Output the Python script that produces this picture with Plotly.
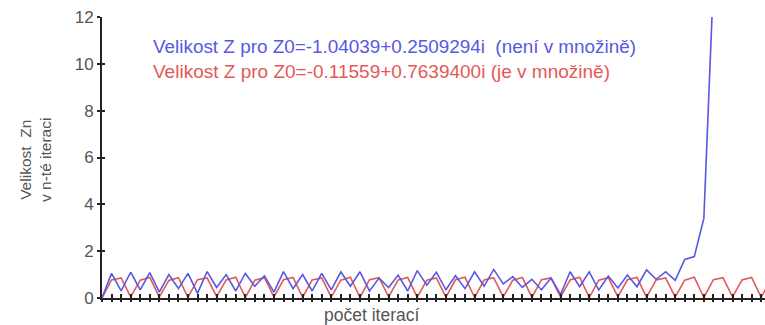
import plotly.graph_objects as go

# Iteration numbers and magnitudes |Z_n|
iter_blue = list(range(0, 65))
blue_vals = [0.0, 1.05, 0.30, 1.10, 0.35, 1.08, 0.25, 1.00, 0.40, 1.05,
             0.20, 1.13, 0.45, 1.00, 0.30, 1.05, 0.50, 0.95, 0.25, 1.13,
             0.40, 1.00, 0.30, 1.05, 0.35, 1.12, 0.50, 1.12, 0.30, 0.85,
             0.45, 0.98, 0.30, 1.17, 0.55, 1.10, 0.35, 0.95, 0.40, 1.12,
             0.50, 1.22, 0.60, 0.91, 0.45, 0.80, 0.35, 0.85, 0.15, 1.12,
             0.48, 1.12, 0.34, 0.94, 0.43, 0.98, 0.48, 1.20, 0.80, 1.12,
             0.75, 1.65, 1.77, 3.40, 13.5]

iter_red = list(range(0, 71))
red_vals = [0.0, 0.77, 0.86, 0.05, 0.76, 0.88, 0.04, 0.75, 0.87, 0.03,
            0.78, 0.86, 0.06, 0.77, 0.89, 0.02, 0.76, 0.87, 0.05, 0.78,
            0.88, 0.03, 0.77, 0.86, 0.04, 0.76, 0.89, 0.02, 0.78, 0.87,
            0.05, 0.77, 0.88, 0.03, 0.76, 0.86, 0.04, 0.78, 0.89, 0.02,
            0.77, 0.87, 0.05, 0.76, 0.88, 0.03, 0.78, 0.86, 0.04, 0.77,
            0.89, 0.02, 0.76, 0.87, 0.05, 0.78, 0.88, 0.03, 0.77, 0.86,
            0.04, 0.76, 0.89, 0.02, 0.78, 0.87, 0.05, 0.77, 0.88, 0.03,
            0.76]

y_ticks = [0, 2, 4, 6, 8, 10, 12]
y_labels = ["0", "2", "4", "6", "8", "10", "12"]

label_blue = "Velikost Z pro Z0=-1.04039+0.2509294i  (není v množině)"
label_red = "Velikost Z pro Z0=-0.11559+0.7639400i (je v množině)"
y_title = "Velikost  Zn<br>v n-té iteraci"
x_title = "počet iterací"

BLUE = "#5858e2"
RED = "#e45858"
FONT = "Liberation Sans, Arial, sans-serif"

L, R, T, B = 102, 0, 17, 27
PW = 765 - L - R
PH = 325 - T - B

fig = go.Figure()
fig.add_trace(go.Scatter(x=iter_red, y=red_vals, mode="lines",
                         line=dict(color=RED, width=1.6), showlegend=False))
fig.add_trace(go.Scatter(x=iter_blue, y=blue_vals, mode="lines",
                         line=dict(color=BLUE, width=1.6), showlegend=False))

XR = [0, 69.4]
fig.update_layout(
    width=765, height=325,
    margin=dict(l=L, r=R, t=T, b=B, autoexpand=False),
    paper_bgcolor="white", plot_bgcolor="white",
    font=dict(family=FONT, color="#444"),
    xaxis=dict(range=XR, tick0=0, dtick=1, ticks="inside", ticklen=4,
               tickcolor="#222", tickwidth=1.5, showticklabels=False,
               showgrid=False, zeroline=False, showline=True, automargin=False,
               linecolor="#222", linewidth=1.8),
    xaxis2=dict(range=XR, overlaying="x", anchor="y", side="bottom",
                tick0=0, dtick=1, ticks="outside", ticklen=3, automargin=False,
                tickcolor="#222", tickwidth=1.5, showticklabels=False,
                showgrid=False, zeroline=False, showline=False),
    yaxis=dict(range=[0, 12], tickvals=y_ticks, ticktext=y_labels,
               ticks="outside", ticklen=3, tickcolor="#222", tickwidth=1.5,
               tickfont=dict(size=17, color="#555"), automargin=False,
               showgrid=False, zeroline=False, showline=True,
               linecolor="#222", linewidth=1.8),
    yaxis2=dict(range=[0, 12], overlaying="y", anchor="x", side="left",
                tickvals=y_ticks, ticks="inside", ticklen=3, automargin=False,
                tickcolor="#222", tickwidth=1.5, showticklabels=False,
                showgrid=False, zeroline=False, showline=False),
)
# invisible helper trace so the overlay axes are drawn
fig.add_trace(go.Scatter(x=[0], y=[0], xaxis="x2", yaxis="y2", mode="markers",
                         marker=dict(opacity=0), showlegend=False, hoverinfo="skip"))

fig.add_annotation(text=label_blue, xref="paper", yref="paper",
                   x=(151 - L) / PW, y=(298 - 46) / PH, xanchor="left", yanchor="middle",
                   showarrow=False, font=dict(size=18.9, color=BLUE, family=FONT))
fig.add_annotation(text=label_red, xref="paper", yref="paper",
                   x=(151 - L) / PW, y=(298 - 71) / PH, xanchor="left", yanchor="middle",
                   showarrow=False, font=dict(size=19, color=RED, family=FONT))
fig.add_annotation(text=y_title, xref="paper", yref="paper",
                   x=-(L - 35) / PW, y=(298 - 160) / PH, xanchor="center", yanchor="middle",
                   textangle=-90, showarrow=False,
                   font=dict(size=15.5, color="#555", family=FONT))
fig.add_annotation(text=x_title, xref="paper", yref="paper",
                   x=(371 - L) / PW, y=-(315 - 298) / PH, xanchor="center", yanchor="middle",
                   showarrow=False, font=dict(size=17.5, color="#555", family=FONT))

fig.write_html("out.html", config={"displayModeBar": False},
               post_script="document.body.style.margin='0';document.body.style.overflow='hidden';")
